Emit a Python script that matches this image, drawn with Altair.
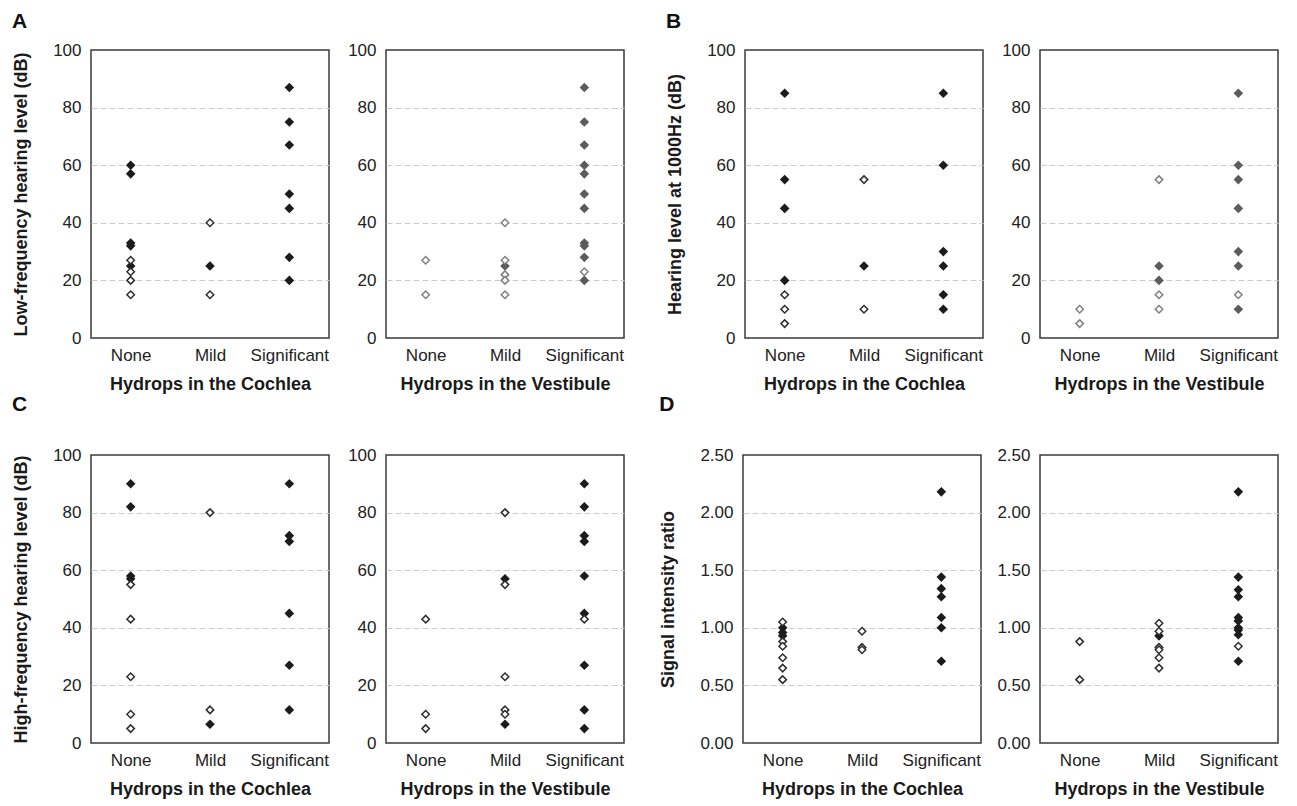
import altair as alt
import pandas as pd

CATEGORIES = ["None", "Mild", "Significant"]
DB_TICKS = [0, 20, 40, 60, 80, 100]
RATIO_TICKS = [0, 0.5, 1.0, 1.5, 2.0, 2.5]

# ---- Panel A: low-frequency hearing level (dB) ----
a_cochlea_filled = {"None": [60, 57, 33, 32, 25], "Mild": [25], "Significant": [87, 75, 67, 50, 45, 28, 20]}
a_cochlea_open = {"None": [27, 23, 20, 15], "Mild": [40, 15], "Significant": []}
a_vestibule_filled = {"None": [], "Mild": [25], "Significant": [87, 75, 67, 60, 57, 50, 45, 33, 32, 28, 20]}
a_vestibule_open = {"None": [27, 15], "Mild": [40, 27, 22, 20, 15], "Significant": [23]}

# ---- Panel B: hearing level at 1000 Hz (dB) ----
b_cochlea_filled = {"None": [85, 55, 45, 20], "Mild": [25], "Significant": [85, 60, 30, 25, 15, 10]}
b_cochlea_open = {"None": [15, 10, 5], "Mild": [55, 10], "Significant": []}
b_vestibule_filled = {"None": [], "Mild": [25, 20], "Significant": [85, 60, 55, 45, 30, 25, 10]}
b_vestibule_open = {"None": [10, 5], "Mild": [55, 15, 10], "Significant": [15]}

# ---- Panel C: high-frequency hearing level (dB) ----
c_cochlea_filled = {"None": [90, 82, 58, 57], "Mild": [6.5], "Significant": [90, 72, 70, 45, 27, 11.5]}
c_cochlea_open = {"None": [55, 43, 23, 10, 5], "Mild": [80, 11.5], "Significant": []}
c_vestibule_filled = {"None": [], "Mild": [57, 6.5], "Significant": [90, 82, 72, 70, 58, 45, 27, 11.5, 5]}
c_vestibule_open = {"None": [43, 10, 5], "Mild": [80, 55, 23, 11.5, 10], "Significant": [43]}

# ---- Panel D: signal intensity ratio ----
d_cochlea_filled = {"None": [1.00, 0.96, 0.93], "Mild": [], "Significant": [2.18, 1.44, 1.34, 1.27, 1.09, 1.00, 0.71]}
d_cochlea_open = {"None": [1.05, 0.88, 0.84, 0.74, 0.65, 0.55], "Mild": [0.97, 0.83, 0.81], "Significant": []}
d_vestibule_filled = {"None": [], "Mild": [0.93], "Significant": [2.18, 1.44, 1.33, 1.27, 1.09, 1.06, 1.00, 0.98, 0.94, 0.71]}
d_vestibule_open = {"None": [0.88, 0.55], "Mild": [1.04, 0.97, 0.83, 0.81, 0.74, 0.65], "Significant": [0.84]}

FONT = "Liberation Sans"
W, H = 238, 288


def frame(filled, opened):
    rows = []
    for c in CATEGORIES:
        rows += [{"grade": c, "value": v, "kind": "filled"} for v in filled[c]]
        rows += [{"grade": c, "value": v, "kind": "open"} for v in opened[c]]
    return pd.DataFrame(rows)


def subplot(filled, opened, xtitle, ytitle, ticks, yfmt, dark, open_stroke):
    ymax = ticks[-1]
    yaxis = dict(
        values=ticks, format=yfmt, grid=True, gridColor="#cccccc", gridDash=[6, 3], gridWidth=1,
        gridOpacity={"condition": {"test": f"datum.value <= 0 || datum.value >= {ymax}", "value": 0}, "value": 1},
        ticks=False, domain=False, labelPadding=10, titlePadding=22,
        labelFont=FONT, labelFontSize=17, labelColor="#222222",
        titleFont=FONT, titleFontSize=18, titleFontWeight="bold", titleColor="#1a1a1a",
    )
    yaxis["title"] = ytitle if ytitle else None
    return alt.Chart(frame(filled, opened)).mark_point(
        shape="diamond", size=56, strokeWidth=1.5, opacity=1, filled=True
    ).encode(
        x=alt.X("grade:N", sort=CATEGORIES,
                scale=alt.Scale(domain=CATEGORIES, paddingInner=0, paddingOuter=0),
                axis=alt.Axis(title=xtitle, labelAngle=0, ticks=False, domain=False, grid=False,
                              labelPadding=9, titlePadding=12,
                              labelFont=FONT, labelFontSize=17, labelColor="#222222",
                              titleFont=FONT, titleFontSize=18, titleFontWeight="bold",
                              titleColor="#1a1a1a")),
        y=alt.Y("value:Q", scale=alt.Scale(domain=[0, ymax], nice=False), axis=alt.Axis(**yaxis)),
        fill=alt.condition("datum.kind == 'filled'", alt.value(dark), alt.value("#ffffff")),
        stroke=alt.condition("datum.kind == 'filled'", alt.value(dark), alt.value(open_stroke)),
    ).properties(width=W, height=H)


def letter(t, offset, dy=0):
    return alt.TitleParams(t, anchor="start", fontSize=21, fontWeight="bold", font=FONT,
                           color="#111111", offset=offset, dy=dy)


XC = "Hydrops in the Cochlea"
XV = "Hydrops in the Vestibule"
BLACK, OPEN = "#1c1c1c", "#2e2e2e"
GREY, OPEN_GREY = "#5c5c5c", "#808080"

a_l = subplot(a_cochlea_filled, a_cochlea_open, XC, "Low-frequency hearing level (dB)", DB_TICKS, "d", BLACK, OPEN)
a_r = subplot(a_vestibule_filled, a_vestibule_open, XV, None, DB_TICKS, "d", GREY, OPEN_GREY)
b_l = subplot(b_cochlea_filled, b_cochlea_open, XC, "Hearing level at 1000Hz (dB)", DB_TICKS, "d", BLACK, OPEN)
b_r = subplot(b_vestibule_filled, b_vestibule_open, XV, None, DB_TICKS, "d", GREY, OPEN_GREY)
c_l = subplot(c_cochlea_filled, c_cochlea_open, XC, "High-frequency hearing level (dB)", DB_TICKS, "d", BLACK, OPEN)
c_r = subplot(c_vestibule_filled, c_vestibule_open, XV, None, DB_TICKS, "d", BLACK, OPEN)
d_l = subplot(d_cochlea_filled, d_cochlea_open, XC, "Signal intensity ratio", RATIO_TICKS, ".2f", BLACK, OPEN)
d_r = subplot(d_vestibule_filled, d_vestibule_open, XV, None, RATIO_TICKS, ".2f", BLACK, OPEN)

row1 = alt.hconcat(
    alt.hconcat(a_l, a_r, spacing=16, title=letter("A", 8)),
    alt.hconcat(b_l, b_r, spacing=16, title=letter("B", 8)),
    spacing=40,
)
row2 = alt.hconcat(
    alt.hconcat(c_l, c_r, spacing=16, title=letter("C", 18, -12)),
    alt.hconcat(d_l, d_r, spacing=14, title=letter("D", 18, -12)),
    spacing=34,
)

chart = alt.vconcat(row1, row2, spacing=0).properties(
    padding={"left": 3, "top": 3, "right": 3, "bottom": 0},
    background="#ffffff",
).configure_view(
    stroke="#3a3a3a", strokeWidth=1.5
)

chart.save("out.html", embed_options={"renderer": "svg", "actions": False})
